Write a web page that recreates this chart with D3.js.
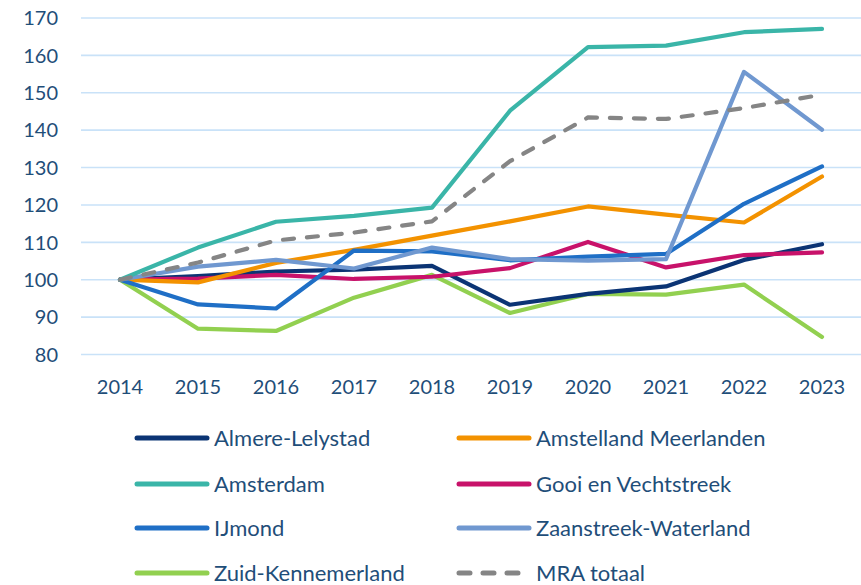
<!DOCTYPE html>
<html lang="nl">
<head>
  <meta charset="utf-8">
  <title>Index MRA regio's</title>
  <script src="https://d3js.org/d3.v7.min.js"></script>
  <style>
    body { margin: 0; background: #fff; }
    svg text { font-family: Lato, "Open Sans", sans-serif; fill: #1F4E79; }
    .grid line { stroke: #C9E2F8; stroke-width: 1.6; }
    .serie { fill: none; stroke-width: 4.2; stroke-linejoin: round; stroke-linecap: round; }
  </style>
</head>
<body>
<script>
  // jaren en indexwaarden (2014 = 100)
  const years = ["2014", "2015", "2016", "2017", "2018", "2019", "2020", "2021", "2022", "2023"];
  const yTicks = [80, 90, 100, 110, 120, 130, 140, 150, 160, 170];

  const almereLelystad     = [100, 101.0, 102.2, 102.7, 103.7, 93.3, 96.2, 98.2, 105.3, 109.5];
  const amstellandMeerl    = [100, 99.3, 104.5, 108.0, 111.8, 115.6, 119.6, 117.4, 115.3, 127.6];
  const amsterdam          = [100, 108.6, 115.5, 117.1, 119.3, 145.2, 162.2, 162.6, 166.2, 167.1];
  const gooiVechtstreek    = [100, 100.3, 101.3, 100.2, 100.8, 103.1, 110.1, 103.3, 106.6, 107.3];
  const ijmond             = [100, 93.4, 92.3, 107.8, 107.6, 105.2, 106.2, 106.9, 120.3, 130.3];
  const zaanstreekWaterl   = [100, 103.5, 105.3, 103.0, 108.6, 105.5, 105.1, 105.5, 155.6, 140.1];
  const zuidKennemerland   = [100, 86.9, 86.3, 95.2, 101.3, 91.1, 96.2, 96.0, 98.7, 84.7];
  const mraTotaal          = [100, 104.6, 110.5, 112.6, 115.6, 131.7, 143.4, 143.0, 145.9, 149.5];

  const series = [
    { name: "Almere-Lelystad", values: almereLelystad, color: "#0B3474" },
    { name: "Amstelland Meerlanden", values: amstellandMeerl, color: "#F39200" },
    { name: "Amsterdam", values: amsterdam, color: "#3AB5A8" },
    { name: "Gooi en Vechtstreek", values: gooiVechtstreek, color: "#C8126A" },
    { name: "IJmond", values: ijmond, color: "#1F6FC6" },
    { name: "Zaanstreek-Waterland", values: zaanstreekWaterl, color: "#7098D0" },
    { name: "Zuid-Kennemerland", values: zuidKennemerland, color: "#92D050" },
    { name: "MRA totaal", values: mraTotaal, color: "#858585", dash: "11,13" }
  ];

  // volgorde van tekenen: zoals in het origineel
  const drawOrder = ["Zuid-Kennemerland", "Almere-Lelystad", "Gooi en Vechtstreek", "Amstelland Meerlanden",
    "IJmond", "Zaanstreek-Waterland", "Amsterdam", "MRA totaal"];

  const width = 861, height = 585;
  const svg = d3.select("body").append("svg")
    .attr("width", width)
    .attr("height", height);

  const x = d3.scalePoint()
    .domain(years)
    .range([81, 861])
    .padding(0.5);

  const y = d3.scaleLinear()
    .domain([80, 170])
    .range([354.5, 18]);

  // rasterlijnen
  svg.append("g")
    .attr("class", "grid")
    .selectAll("line")
    .data(yTicks)
    .enter().append("line")
    .attr("x1", 81)
    .attr("x2", 861)
    .attr("y1", d => y(d))
    .attr("y2", d => y(d));

  // y-as labels
  svg.append("g")
    .selectAll("text")
    .data(yTicks)
    .enter().append("text")
    .attr("x", 58)
    .attr("y", d => y(d))
    .attr("dy", "0.36em")
    .attr("text-anchor", "end")
    .style("font-size", "20px")
    .text(d => d);

  // x-as labels
  svg.append("g")
    .selectAll("text")
    .data(years)
    .enter().append("text")
    .attr("x", d => x(d))
    .attr("y", 387)
    .attr("dy", "0.36em")
    .attr("text-anchor", "middle")
    .style("font-size", "20px")
    .text(d => d);

  const line = d3.line()
    .x((d, i) => x(years[i]))
    .y(d => y(d));

  drawOrder.forEach(n => {
    const s = series.find(d => d.name === n);
    svg.append("path")
      .attr("class", "serie")
      .attr("d", line(s.values))
      .attr("stroke", s.color)
      .attr("stroke-dasharray", s.dash || null);
  });

  // legenda, twee kolommen
  const legendX = [135, 457];
  const legendY = [438, 484, 528, 573];
  const legend = svg.append("g");
  series.forEach((s, i) => {
    const col = i % 2, row = Math.floor(i / 2);
    const g = legend.append("g")
      .attr("transform", `translate(${legendX[col]},${legendY[row]})`);
    g.append("line")
      .attr("x1", 2).attr("x2", 72)
      .attr("y1", 0).attr("y2", 0)
      .attr("stroke", s.color)
      .attr("stroke-width", 5)
      .attr("stroke-linecap", "round")
      .attr("stroke-dasharray", s.dash ? "11,13" : null);
    g.append("text")
      .attr("x", 79)
      .attr("y", 0)
      .attr("dy", "0.36em")
      .style("font-size", "22px")
      .text(s.name);
  });
</script>
</body>
</html>
